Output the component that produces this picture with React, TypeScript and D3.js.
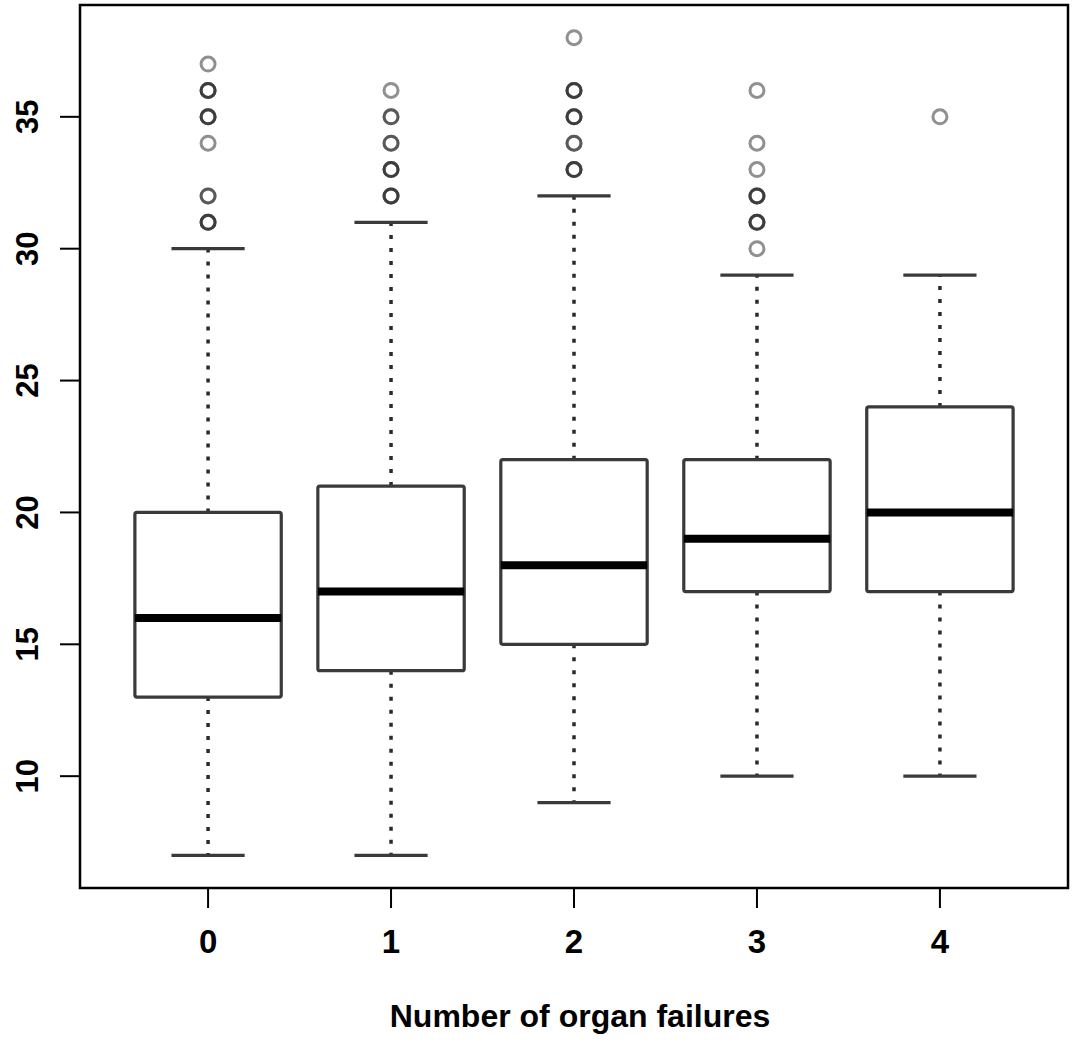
import React from 'react';
import * as d3 from 'd3';

// chart values
const categories = ['0', '1', '2', '3', '4'];
const lowerWhisker = [7, 7, 9, 10, 10];
const q1 = [13, 14, 15, 17, 17];
const medians = [16, 17, 18, 19, 20];
const q3 = [20, 21, 22, 22, 24];
const upperWhisker = [30, 31, 32, 29, 29];
// [value, how many points overplotted]
const outliers: [number, number][][] = [
  [[31, 3], [32, 2], [34, 1], [35, 3], [36, 3], [37, 1]],
  [[32, 3], [33, 3], [34, 2], [35, 2], [36, 1]],
  [[33, 3], [34, 2], [35, 3], [36, 3], [38, 1]],
  [[30, 1], [31, 3], [32, 3], [33, 1], [34, 1], [36, 1]],
  [[35, 1]],
];
const yTicks = [10, 15, 20, 25, 30, 35];
const xLabel = 'Number of organ failures';

const W = 1077;
const H = 1042;
const plot = { left: 80, right: 1068, top: 5, bottom: 888 };
const font = '"Liberation Sans", Arial, sans-serif';

export default function App() {
  const x = d3.scaleLinear().domain([0.3, categories.length + 0.7]).range([plot.left, plot.right]);
  const y = d3.scaleLinear().domain([5.76, 39.24]).range([plot.bottom, plot.top]);
  const half = x(1.4) - x(1); // box half width (boxwex 0.8)
  const cap = half / 2;

  return (
    <svg width={W} height={H} style={{ position: 'absolute', left: 0, top: 0, background: '#fff' }}>
      {/* boxes */}
      {categories.map((c, i) => {
        const cx = x(i + 1);
        return (
          <g key={c}>
            <line x1={cx} x2={cx} y1={y(q3[i])} y2={y(upperWhisker[i])}
              stroke="#2a2a2a" strokeWidth={3.5} strokeDasharray="4 9" />
            <line x1={cx} x2={cx} y1={y(q1[i])} y2={y(lowerWhisker[i])}
              stroke="#2a2a2a" strokeWidth={3.5} strokeDasharray="4 9" />
            <line x1={cx - cap} x2={cx + cap} y1={y(upperWhisker[i])} y2={y(upperWhisker[i])}
              stroke="#3a3a3a" strokeWidth={3.2} />
            <line x1={cx - cap} x2={cx + cap} y1={y(lowerWhisker[i])} y2={y(lowerWhisker[i])}
              stroke="#3a3a3a" strokeWidth={3.2} />
            <rect x={cx - half} y={y(q3[i])} width={half * 2} height={y(q1[i]) - y(q3[i])}
              fill="#fff" stroke="#3a3a3a" strokeWidth={3.2} rx={2} />
            <line x1={cx - half} x2={cx + half} y1={y(medians[i])} y2={y(medians[i])}
              stroke="#000" strokeWidth={8} />
            {outliers[i].flatMap(([v, n]) =>
              d3.range(n).map(k => (
                <circle key={`${v}-${k}`} cx={cx} cy={y(v)} r={7} fill="none"
                  stroke="#222" strokeOpacity={0.5} strokeWidth={3} />
              ))
            )}
          </g>
        );
      })}

      {/* frame */}
      <rect x={plot.left} y={plot.top} width={plot.right - plot.left} height={plot.bottom - plot.top}
        fill="none" stroke="#000" strokeWidth={2.5} />

      {/* y axis */}
      {yTicks.map(t => (
        <g key={t}>
          <line x1={plot.left - 20} x2={plot.left} y1={y(t)} y2={y(t)} stroke="#000" strokeWidth={2} />
          <text transform={`translate(38,${y(t)}) rotate(-90)`} textAnchor="middle"
            fontFamily={font} fontWeight="bold" fontSize={31} fill="#000">{t}</text>
        </g>
      ))}

      {/* x axis */}
      {categories.map((c, i) => (
        <g key={c}>
          <line x1={x(i + 1)} x2={x(i + 1)} y1={plot.bottom} y2={plot.bottom + 20} stroke="#000" strokeWidth={2} />
          <text x={x(i + 1)} y={953} textAnchor="middle" fontFamily={font} fontWeight="bold"
            fontSize={33} fill="#000">{c}</text>
        </g>
      ))}
      <text x={580} y={1027} textAnchor="middle" fontFamily={font}
        fontWeight="bold" fontSize={32} fill="#000">{xLabel}</text>
    </svg>
  );
}
